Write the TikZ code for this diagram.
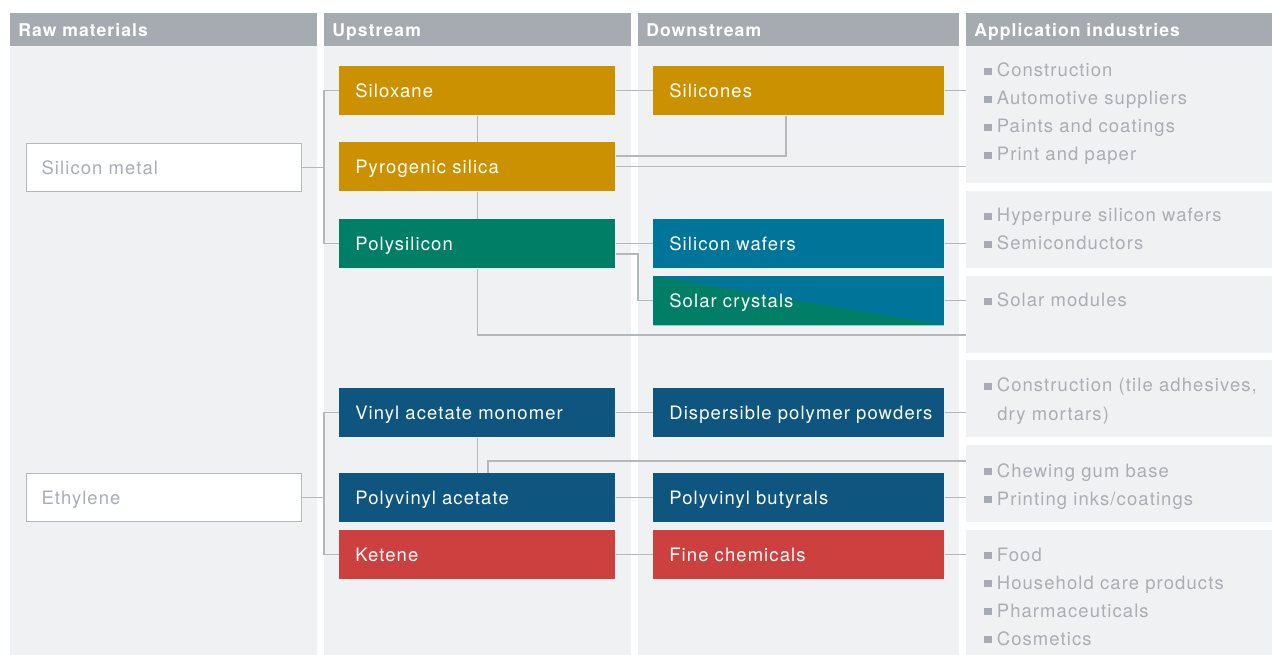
\documentclass[tikz,border=0pt]{standalone}
\usepackage{fontspec}
\setmainfont{TeX Gyre Heros}[LetterSpace=6]
\usetikzlibrary{positioning}

\definecolor{headgray}{HTML}{A5ABB1}
\definecolor{panelgray}{HTML}{F0F1F3}
\definecolor{linkgray}{HTML}{B3B8BD}
\definecolor{textgray}{HTML}{A9AEB4}
\definecolor{sigold}{HTML}{CC9100}
\definecolor{sigreen}{HTML}{007F66}
\definecolor{siblue}{HTML}{007499}
\definecolor{vablue}{HTML}{0E557F}
\definecolor{kered}{HTML}{CC4140}

\newcommand\sq{\textcolor{headgray}{\rule[1.1pt]{0.15cm}{0.15cm}}\hspace{0.1cm}}

\tikzset{
  txt/.style={font=\fontsize{10.5}{12.6}\selectfont},
  head/.style={anchor=north west, fill=headgray, text=white,
    font=\fontsize{10}{12}\selectfont\bfseries, minimum height=0.66cm,
    inner xsep=0.16cm, inner ysep=0pt, text height=8pt, text depth=0pt, align=left},
  prod/.style={txt, anchor=north west, text=white, minimum height=0.98cm,
    inner xsep=0.32cm, inner ysep=0pt, text height=7.5pt, text depth=0pt, align=left},
  up/.style={prod, text width=4.88cm},
  down/.style={prod, text width=5.18cm},
  raw/.style={txt, anchor=north west, fill=white, draw=linkgray, line width=0.6pt,
    text=textgray, minimum height=0.96cm, text width=4.9cm, inner xsep=0.3cm,
    inner ysep=0pt, text height=7.5pt, text depth=0pt, align=left},
  item/.style={txt, anchor=base west, text=textgray, inner sep=0pt},
  link/.style={draw=linkgray, line width=0.65pt}
}

\begin{document}
\begin{tikzpicture}[x=0.02cm, y=-0.02cm]
  \useasboundingbox (0,0) rectangle (1272,655);
  \fill[white] (0,0) rectangle (1272,655);

  % column panels
  \fill[panelgray] (10,46)  rectangle (317,655);
  \fill[panelgray] (324,46) rectangle (631,655);
  \fill[panelgray] (638,46) rectangle (959,655);
  \foreach \a/\b in {46/183, 191/268, 276/353, 360/437, 445/522, 530/655}
    \fill[panelgray] (966,\a) rectangle (1272,\b);

  % headers
  \node[head, text width=5.82cm] (hraw)  at (10,13)  {Raw materials};
  \node[head, text width=5.82cm] (hup)   at (324,13) {Upstream};
  \node[head, text width=6.10cm] (hdown) at (638,13) {Downstream};
  \node[head, text width=5.80cm] (happ)  at (966,13) {Application industries};

  % raw materials
  \node[raw] (simetal) at (26,143) {Silicon metal};
  \node[raw] (ethyl)   at (26,473) {Ethylene};

  % upstream
  \node[up, fill=sigold]  (silox) at (339,66)  {Siloxane};
  \node[up, fill=sigold]  (pyro)  at (339,142) {Pyrogenic silica};
  \node[up, fill=sigreen] (poly)  at (339,219) {Polysilicon};
  \node[up, fill=vablue]  (vam)   at (339,388) {Vinyl acetate monomer};
  \node[up, fill=vablue]  (pvac)  at (339,473) {Polyvinyl acetate};
  \node[up, fill=kered]   (ket)   at (339,530) {Ketene};

  % downstream
  \node[down, fill=sigold] (silic) at (653,66)  {Silicones};
  \node[down, fill=siblue] (wafer) at (653,219) {Silicon wafers};
  \node[down, fill=siblue, path picture={
      \fill[sigreen] (path picture bounding box.north west)
        -- (path picture bounding box.south east)
        -- (path picture bounding box.south west) -- cycle;}]
    (solar) at (653,276) {Solar crystals};
  \node[down, fill=vablue] (disp)  at (653,388) {\mbox{Dispersible polymer powders}};
  \node[down, fill=vablue] (pvb)   at (653,473) {Polyvinyl butyrals};
  \node[down, fill=kered]  (fine)  at (653,530) {Fine chemicals};

  % application industries
  \foreach \t [count=\i from 0] in {Construction, Automotive suppliers, Paints and coatings, Print and paper}
    \node[item] (pa-\i) at (984,77+28*\i) {\sq\t};
  \foreach \t [count=\i from 0] in {Hyperpure silicon wafers, Semiconductors}
    \node[item] (pb-\i) at (984,222+28*\i) {\sq\t};
  \node[item] (pc-0) at (984,307) {\sq Solar modules};
  \node[item] (pd-0) at (984,392) {\sq Construction (tile adhesives,};
  \node[item] (pd-1) at (997,420) {dry mortars)};
  \foreach \t [count=\i from 0] in {Chewing gum base, Printing inks/coatings}
    \node[item] (pe-\i) at (984,477+28*\i) {\sq\t};
  \foreach \t [count=\i from 0] in {Food, Household care products, Pharmaceuticals, Cosmetics}
    \node[item] (pf-\i) at (984,561+28*\i) {\sq\t};

  % connectors
  \coordinate (busA) at (324,0);
  \coordinate (appx) at (966,0);
  \coordinate (sxd)  at (786,156);
  \coordinate (pkn)  at (638,254);
  \coordinate (pdn)  at (0,335);
  \coordinate (pvu)  at (488,461);

  \draw[link] (simetal.east) -- (simetal.east -| busA);
  \draw[link] (silox.west) -| (busA |- poly.west) -- (poly.west);
  \draw[link] (silox.south) -- (pyro.north);
  \draw[link] (pyro.south) -- (poly.north);
  \draw[link] (silox.east) -- (silic.west);
  \draw[link] (silic.east) -- (silic.east -| appx);
  \draw[link] (sxd |- silic.south) -- (sxd) -- (sxd -| pyro.east);
  \draw[link] (pyro.east) -- (pyro.east -| appx);
  \draw[link] (poly.east) -- (wafer.west);
  \draw[link] (pkn -| poly.east) -- (pkn) |- (solar.west);
  \draw[link] (wafer.east) -- (wafer.east -| appx);
  \draw[link] (solar.east) -- (solar.east -| appx);
  \draw[link] (poly.south) |- (pdn -| appx);

  \draw[link] (ethyl.east) -- (ethyl.east -| busA);
  \draw[link] (vam.west) -| (busA |- ket.west) -- (ket.west);
  \draw[link] (vam.south) -- (pvac.north);
  \draw[link] (pvu |- pvac.north) -- (pvu) -- (pvu -| appx);
  \draw[link] (vam.east) -- (disp.west);
  \draw[link] (pvac.east) -- (pvb.west);
  \draw[link] (ket.east) -- (fine.west);
  \draw[link] (disp.east) -- (disp.east -| appx);
  \draw[link] (pvb.east) -- (pvb.east -| appx);
  \draw[link] (fine.east) -- (fine.east -| appx);
\end{tikzpicture}
\end{document}
